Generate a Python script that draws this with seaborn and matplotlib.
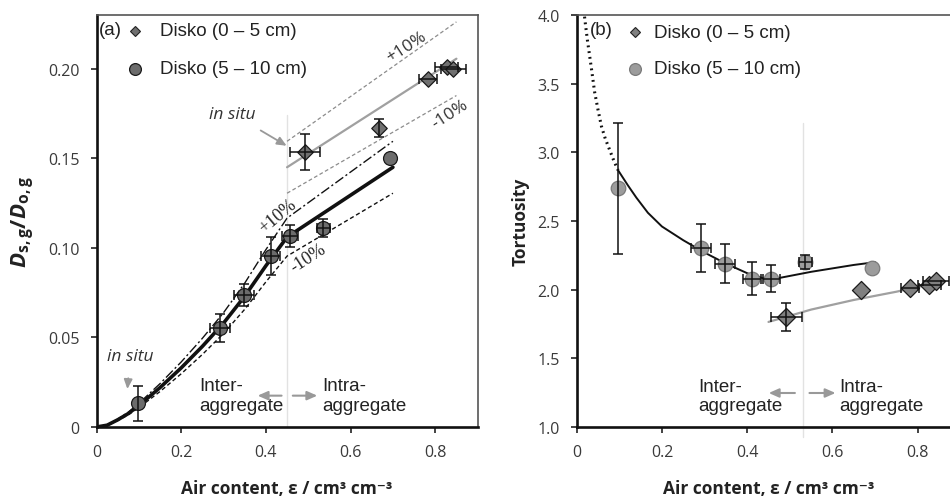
import numpy as np
import matplotlib
matplotlib.use("Agg")
import matplotlib.pyplot as plt
import seaborn as sns

# ---- measured data -------------------------------------------------------
# Disko (0 - 5 cm)
eps_top = [0.492, 0.666, 0.782, 0.827, 0.843]
eps_top_xerr = [0.036, 0.0, 0.021, 0.027, 0.030]
dsg_top = [0.1535, 0.167, 0.194, 0.201, 0.200]
dsg_top_yerr = [0.0098, 0.005, 0.0, 0.0, 0.0]
tort_top = [1.80, 1.998, 2.012, 2.036, 2.061]
tort_top_yerr = [0.10, 0.0, 0.0, 0.0, 0.0]

# Disko (5 - 10 cm)
eps_sub = [0.097, 0.292, 0.348, 0.411, 0.457, 0.536, 0.693]
eps_sub_xerr = [0.0, 0.024, 0.024, 0.022, 0.020, 0.015, 0.0]
dsg_sub = [0.0132, 0.0553, 0.0737, 0.0957, 0.1065, 0.1112, 0.150]
dsg_sub_yerr = [0.0099, 0.008, 0.006, 0.0106, 0.006, 0.005, 0.0]
tort_sub = [2.74, 2.30, 2.19, 2.08, 2.08, 2.20, 2.155]
tort_sub_yerr = [0.477, 0.175, 0.14, 0.12, 0.10, 0.05, 0.0]

# ---- model curves --------------------------------------------------------
fit_sub_eps = [0.0, 0.025, 0.05, 0.075, 0.1, 0.15, 0.2, 0.25, 0.3, 0.35, 0.4, 0.45, 0.7]
fit_sub_dsg = [0.0, 0.001, 0.004, 0.0075, 0.012, 0.022, 0.033, 0.045, 0.058, 0.073, 0.090, 0.106, 0.145]
fit_top_eps = [0.45, 0.85]
fit_top_dsg = [0.145, 0.2056]
band = 0.10  # +/-10 % envelopes

tort_dot_eps = [0.017, 0.019, 0.025, 0.03, 0.035, 0.042, 0.05, 0.058, 0.067, 0.077, 0.087, 0.097]
tort_dot = [4.03, 3.97, 3.82, 3.71, 3.60, 3.44, 3.31, 3.19, 3.10, 3.02, 2.94, 2.87]
tort_fit_eps = [0.097, 0.12, 0.14, 0.167, 0.2, 0.25, 0.3, 0.35, 0.4, 0.45, 0.5, 0.55, 0.6, 0.65, 0.7]
tort_fit = [2.87, 2.76, 2.67, 2.56, 2.46, 2.36, 2.27, 2.19, 2.12, 2.07, 2.10, 2.13, 2.155, 2.18, 2.20]
tort_top_fit_eps = [0.45, 0.5, 0.55, 0.6, 0.65, 0.7, 0.75, 0.8, 0.85]
tort_top_fit = [1.765, 1.81, 1.855, 1.89, 1.925, 1.955, 1.985, 2.02, 2.05]

x_ticks = [0, 0.2, 0.4, 0.6, 0.8]
x_ticklabels = ["0", "0.2", "0.4", "0.6", "0.8"]
dsg_ticks = [0, 0.05, 0.10, 0.15, 0.20]
dsg_ticklabels = ["0", "0.05", "0.10", "0.15", "0.20"]
tort_ticks = [1.0, 1.5, 2.0, 2.5, 3.0, 3.5, 4.0]
tort_ticklabels = ["1.0", "1.5", "2.0", "2.5", "3.0", "3.5", "4.0"]

label_top = "Disko (0 – 5 cm)"
label_sub = "Disko (5 – 10 cm)"

# ---- style ---------------------------------------------------------------
sns.set_theme(style="ticks")
plt.rcParams["font.family"] = ["Open Sans", "DejaVu Sans"]
plt.rcParams["mathtext.fontset"] = "custom"
plt.rcParams["mathtext.bf"] = "Open Sans:bold"
plt.rcParams["mathtext.bfit"] = "Open Sans:italic:bold"
plt.rcParams["mathtext.rm"] = "Open Sans"

TICK_COLOR = "#3a3a3a"
ARIAL = ["Liberation Sans", "DejaVu Sans"]

fig = plt.figure(figsize=(9.5, 5.02), dpi=100)
axL = fig.add_axes([96.5 / 950, 74 / 502, 381.1 / 950, 412 / 502])
axR = fig.add_axes([576.7 / 950, 74 / 502, 383.6 / 950, 412 / 502])


def nz(a):
    a = np.asarray(a, dtype=float)
    return np.where(a > 0, a, np.nan)


def style_axes(ax, yticks, yticklabels, ylim):
    ax.set_xlim(0, 0.9)
    ax.set_ylim(*ylim)
    ax.set_xticks(x_ticks)
    ax.set_xticklabels(x_ticklabels)
    ax.set_yticks(yticks)
    ax.set_yticklabels(yticklabels)
    for s in ("left", "bottom"):
        ax.spines[s].set_linewidth(1.9)
        ax.spines[s].set_color("#111111")
    for s in ("top", "right"):
        ax.spines[s].set_visible(True)
        ax.spines[s].set_linewidth(1.2)
        ax.spines[s].set_color("#555555")
    ax.tick_params(axis="both", direction="out", length=4, width=1.2,
                   color="#222222", labelsize=11.5, labelcolor=TICK_COLOR, pad=8)
    ax.set_xlabel("Air content, ε / cm³ cm⁻³", fontsize=12.5, fontweight="bold",
                  color="#222222", labelpad=14)


def markers(ax, x, y, marker, size, face, edge):
    sns.scatterplot(x=x, y=y, ax=ax, marker=marker, s=size, color=face,
                    edgecolor=edge, linewidth=0.9, zorder=5, legend=False)


def errbars(ax, x, y, xerr, yerr):
    ax.errorbar(x, y, xerr=nz(xerr), yerr=nz(yerr), fmt="none", ecolor="#111111",
                elinewidth=1.1, capsize=3.5, capthick=1.1, zorder=6)


def key(ax, tag, tag_x, face_d, face_c, edge_c, x_mark, x_text, y1, y2):
    ax.text(tag_x, 0.966, tag, transform=ax.transAxes, fontsize=13.5,
            family=ARIAL, color="#222222", ha="left", va="center")
    ax.plot([x_mark], [y1], transform=ax.transAxes, marker="D", ms=4.8,
            mfc=face_d, mec="#222222", mew=0.8, clip_on=False)
    ax.plot([x_mark], [y2], transform=ax.transAxes, marker="o", ms=8.5,
            mfc=face_c, mec=edge_c, mew=0.9, clip_on=False)
    ax.text(x_text, y1, label_top, transform=ax.transAxes, fontsize=13.5,
            family=ARIAL, color="#222222", ha="left", va="center")
    ax.text(x_text, y2, label_sub, transform=ax.transAxes, fontsize=13.5,
            family=ARIAL, color="#222222", ha="left", va="center")


def domain_labels(ax, x_inter, x_intra, y_txt, arrow_left, arrow_right, y_arrow):
    ax.text(x_inter, y_txt, "Inter-\naggregate", fontsize=13.5, family=ARIAL,
            color="#222222", ha="left", va="center", linespacing=1.2)
    ax.text(x_intra, y_txt, "Intra-\naggregate", fontsize=13.5, family=ARIAL,
            color="#222222", ha="left", va="center", linespacing=1.2)
    ap = dict(arrowstyle="-|>,head_length=0.5,head_width=0.22", color="#999999", lw=1.5)
    ax.annotate("", xy=(arrow_left[1], y_arrow), xytext=(arrow_left[0], y_arrow), arrowprops=ap)
    ax.annotate("", xy=(arrow_right[1], y_arrow), xytext=(arrow_right[0], y_arrow), arrowprops=ap)


# ---- (a) relative gas diffusivity ---------------------------------------
ax = axL
style_axes(ax, dsg_ticks, dsg_ticklabels, (0, 0.23))
ax.plot([0.451, 0.451], [0, 0.174], color="#e2e2e2", lw=1.0, zorder=1)

fs = np.asarray(fit_sub_dsg)
sns.lineplot(x=fit_sub_eps, y=fs, ax=ax, color="#111111", lw=2.6, sort=False,
             estimator=None, zorder=3)
sns.lineplot(x=fit_sub_eps, y=fs * (1 + band), ax=ax, color="#111111", lw=1.0,
             sort=False, estimator=None, linestyle=(0, (7, 2, 1.5, 2)), zorder=3)
sns.lineplot(x=fit_sub_eps, y=fs * (1 - band), ax=ax, color="#111111", lw=1.0,
             sort=False, estimator=None, linestyle=(0, (3, 2)), zorder=3)

ft = np.asarray(fit_top_dsg)
sns.lineplot(x=fit_top_eps, y=ft, ax=ax, color="#a0a0a0", lw=1.6, sort=False,
             estimator=None, zorder=3)
for f in (1 + band, 1 - band):
    sns.lineplot(x=fit_top_eps, y=ft * f, ax=ax, color="#8c8c8c", lw=0.9,
                 sort=False, estimator=None, linestyle=(0, (3, 2)), zorder=3)

markers(ax, eps_top, dsg_top, "D", 62, "#707070", "#1a1a1a")
markers(ax, eps_sub, dsg_sub, "o", 100, "#6c6c6c", "#1a1a1a")
errbars(ax, eps_top, dsg_top, eps_top_xerr, dsg_top_yerr)
errbars(ax, eps_sub, dsg_sub, eps_sub_xerr, dsg_sub_yerr)

ax.text(0.733, 0.2125, "+10%", rotation=33, fontsize=12.5, color="#333333",
        ha="center", va="center")
ax.text(0.835, 0.175, "-10%", rotation=33, fontsize=12.5, color="#333333",
        ha="center", va="center")
ax.text(0.429, 0.118, "+10%", rotation=40, fontsize=13, color="#222222",
        family=["Liberation Serif", "DejaVu Serif"], ha="center", va="center")
ax.text(0.50, 0.0948, "-10%", rotation=33, fontsize=13, color="#222222",
        family=["Liberation Serif", "DejaVu Serif"], ha="center", va="center")

ap_situ = dict(arrowstyle="-|>,head_length=0.45,head_width=0.2", color="#999999", lw=1.3)
ax.annotate("in situ", xy=(0.449, 0.157), xytext=(0.32, 0.175), fontsize=12.5,
            style="italic", color="#333333", ha="center", va="center",
            arrowprops=dict(ap_situ, shrinkA=8, shrinkB=0))
ax.annotate("in situ", xy=(0.073, 0.0212), xytext=(0.079, 0.0397), fontsize=12.5,
            style="italic", color="#333333", ha="center", va="center",
            arrowprops=dict(ap_situ, shrinkA=8, shrinkB=0))

domain_labels(ax, 0.242, 0.532, 0.0176, (0.4436, 0.374), (0.457, 0.528), 0.0175)
key(ax, "(a)", 0.005, "#707070", "#6c6c6c", "#1a1a1a", 0.101, 0.1666, 0.962, 0.869)
ax.set_ylabel(r"$\mathbfit{D}_{\mathbf{s,g}}\mathbf{/}\mathbfit{D}_{\mathbf{o,g}}$",
              fontsize=16, color="#222222", labelpad=8)

# ---- (b) tortuosity ------------------------------------------------------
ax = axR
style_axes(ax, tort_ticks, tort_ticklabels, (1.0, 4.0))
ax.plot([0.531, 0.531], [0.93, 3.21], color="#e2e2e2", lw=1.0, zorder=1, clip_on=False)

sns.lineplot(x=tort_dot_eps, y=tort_dot, ax=ax, color="#111111", lw=2.2, sort=False,
             estimator=None, linestyle=(0, (0.6, 1.3)), zorder=3)
sns.lineplot(x=tort_fit_eps, y=tort_fit, ax=ax, color="#111111", lw=1.4, sort=False,
             estimator=None, zorder=3)
sns.lineplot(x=tort_top_fit_eps, y=tort_top_fit, ax=ax, color="#a0a0a0", lw=1.6,
             sort=False, estimator=None, zorder=3)

markers(ax, eps_top, tort_top, "D", 85, "#808080", "#1a1a1a")
markers(ax, eps_sub, tort_sub, "o", 110, "#9c9c9c", "#7a7a7a")
errbars(ax, eps_top, tort_top, eps_top_xerr, tort_top_yerr)
errbars(ax, eps_sub, tort_sub, eps_sub_xerr, tort_sub_yerr)

domain_labels(ax, 0.2846, 0.6154, 1.2245, (0.5185, 0.444), (0.5396, 0.6138), 1.2476)
key(ax, "(b)", 0.0347, "#808080", "#9c9c9c", "#7a7a7a", 0.152, 0.2015, 0.958, 0.869)
ax.set_ylabel("Tortuosity", fontsize=12.5, fontweight="bold", color="#222222", labelpad=6)

fig.savefig("out.png", dpi=100)
